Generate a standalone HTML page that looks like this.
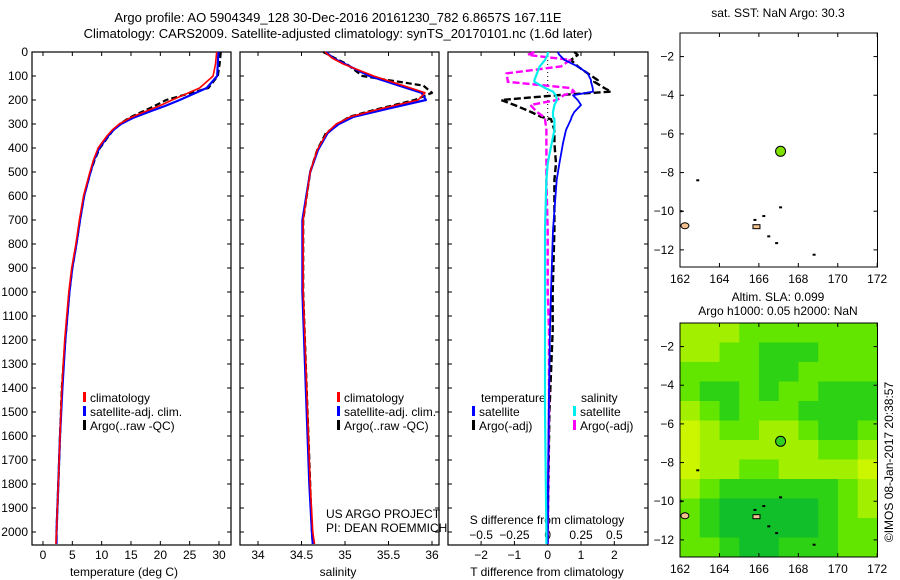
<!DOCTYPE html>
<html><head><meta charset="utf-8">
<style>
body{margin:0;background:#fff;}
svg{display:block;font-family:"Liberation Sans",sans-serif;font-size:12px;}
</style></head>
<body>
<svg id="c" width="900" height="580" viewBox="0 0 900 580" xmlns="http://www.w3.org/2000/svg">
<text x="338" y="22" text-anchor="middle" font-size="13">Argo profile: AO 5904349_128 30-Dec-2016 20161230_782 6.8657S 167.11E</text>
<text x="338" y="38" text-anchor="middle" font-size="13">Climatology: CARS2009. Satellite-adjusted climatology: synTS_20170101.nc (1.6d later)</text>
<text x="778" y="17" text-anchor="middle">sat. SST: NaN Argo: 30.3</text>
<text x="778" y="301" text-anchor="middle">Altim. SLA: 0.099</text>
<text x="778" y="315" text-anchor="middle">Argo h1000: 0.05 h2000: NaN</text>
<text transform="translate(893,462) rotate(-90)" text-anchor="middle">©IMOS 08-Jan-2017 20:38:57</text>
<g id="g"></g>
</svg>
<script>
// ---- profile data ----
const depthT = [0,50,100,150,200,225,250,275,300,325,350,400,450,500,600,700,800,900,1000,1200,1400,1600,1800,2000,2050];
const tempClim = [29.6,29.4,29.0,26.7,22.0,19.8,17.2,14.8,13.0,11.8,10.9,9.4,8.6,8.0,6.9,6.2,5.6,4.9,4.4,3.7,3.2,2.9,2.6,2.3,2.2];
const tempSat  = [29.9,29.8,29.7,27.9,23.3,20.8,18.0,15.3,13.3,12.0,11.1,9.6,8.7,8.1,7.0,6.3,5.7,5.0,4.5,3.8,3.3,2.9,2.6,2.3,2.3];
const tempArgo = [30.3,30.1,29.8,28.2,21.0,19.0,16.8,14.6,13.1,12.0,11.2,9.7,8.8,8.1,7.0,6.3,5.7,5.0,4.5,3.8,3.2,2.9,2.6,2.3,2.3];
const depthS = [0,25,50,100,140,170,200,240,270,300,320,338,408,500,700,1000,1400,1800,2000,2050];
const salClim = [34.77,34.85,34.98,35.33,35.67,35.92,35.84,35.37,35.06,34.9,34.84,34.79,34.68,34.6,34.52,34.52,34.56,34.6,34.63,34.65];
const salSat  = [34.78,34.86,35.0,35.28,35.62,35.88,35.93,35.45,35.1,34.93,34.86,34.8,34.69,34.6,34.51,34.51,34.55,34.59,34.62,34.63];
const salArgo = [34.75,34.88,35.02,35.2,35.9,36.0,35.8,35.35,35.05,34.92,34.85,34.78,34.68,34.6,34.52,34.52,34.56,34.6,34.62,34.63];
const depthD = [0,12,33,60,89,117,124,150,165,180,200,221,250,270,280,325,380,464,533,741,1000,1158,1500,2000,2050];
const dTsat  = [0.3,0.35,0.5,0.9,1.2,1.3,1.3,1.35,1.36,0.76,0.9,1.0,0.8,0.72,0.7,0.55,0.46,0.35,0.27,0.16,0.1,0.07,0.03,0.0,0.0];
const dTargo = [0.8,0.9,0.7,0.9,1.2,1.5,1.4,1.7,1.9,0.3,-1.4,-1.0,-0.5,-0.2,0.1,0.2,0.2,0.25,0.2,0.2,0.15,0.15,0.05,0.0,0.0];
const dSsat  = [0,0,-0.02,-0.06,-0.08,-0.1,-0.1,-0.02,0.04,0.06,0.07,0.05,0.04,0.04,0.05,0.05,0.03,0,-0.01,-0.02,-0.02,-0.02,-0.02,-0.01,-0.01];
const dSargo = [-0.1,-0.15,0.17,0.1,-0.31,-0.3,-0.3,0.17,0.2,0.12,0.07,-0.13,-0.08,-0.03,-0.02,-0.01,-0.01,-0.01,-0.01,0,0,0.01,0.01,0,0];
const depthTicks = [0,100,200,300,400,500,600,700,800,900,1000,1100,1200,1300,1400,1500,1600,1700,1800,1900,2000];
const tTicks = [0,5,10,15,20,25,30];
const sTicks = [34,34.5,35,35.5,36];
const dTTicks = [-2,-1,0,1,2];
const dSTickLabels = ["\u22120.5","\u22120.25","0","0.25","0.5"];
// ---- map data ----
const lonTicks = [162,164,166,168,170,172];
const latTicks = [-2,-4,-6,-8,-10,-12];
const argoLon = [167.1];
const argoLat = [-6.9];
const slaGrid = [
 [3,3,3,2,2,2,2,2,2,2],
 [3,3,2,2,1,1,1,2,2,2],
 [2,2,2,2,1,1,2,2,2,2],
 [2,1,1,2,1,2,2,1,1,1],
 [3,2,1,2,2,2,1,1,1,1],
 [4,3,2,2,3,3,2,1,1,2],
 [4,3,3,3,3,3,3,2,2,3],
 [4,3,3,2,2,3,3,3,3,4],
 [3,2,1,1,1,1,1,1,2,3],
 [2,1,0,0,0,0,0,1,2,3],
 [2,1,0,0,0,0,0,1,2,2],
 [2,2,1,0,0,1,1,1,2,2]
];
const slaColors = ['#10bf2a','#2ed214','#62e600','#a2f000','#ccf600'];
const islandLon = [162.9,165.8,166.25,167.1,166.5,166.9,168.8,162.05];
const islandLat = [-8.4,-10.45,-10.25,-9.8,-11.3,-11.65,-12.25,-10.0];

const NS='http://www.w3.org/2000/svg';
const G=document.getElementById('g');
function el(tag,attrs,parent){const e=document.createElementNS(NS,tag);for(const k in attrs)e.setAttribute(k,attrs[k]);(parent||G).appendChild(e);return e;}
function txt(x,y,s,anchor,parent){const t=el('text',{x:x,y:y,'text-anchor':anchor||'middle'},parent);t.textContent=s;return t;}

const TOP=52, BOT=545;
const yD=d=>TOP+d*0.24;
const xT=v=>43+v*(176/30);
const xS=v=>258+(v-34)*87;
const xDT=v=>547.7+v*33.3;
const xDS=v=>547.7+v*133.2;

function frame(x0,x1,name){
  const g=el('g',{});
  
  
  el('rect',{x:x0,y:TOP,width:x1-x0,height:BOT-TOP,fill:'none',stroke:'#000','stroke-width':1.2},g);
  depthTicks.forEach(d=>{el('line',{x1:x0,x2:x0+4,y1:yD(d),y2:yD(d),stroke:'#000'},g);el('line',{x1:x1,x2:x1-4,y1:yD(d),y2:yD(d),stroke:'#000'},g);});
  return g;
}
function line(xs,ds,xf,color,w,dash,name){
  const p=xs.map((v,i)=>xf(v).toFixed(1)+','+yD(ds[i]).toFixed(1)).join(' ');
  const l=el('polyline',{points:p,fill:'none',stroke:color,'stroke-width':w,'stroke-linejoin':'round'});
  if(dash)l.setAttribute('stroke-dasharray',dash);
  
  
  return l;
}
function legend(x,y,items,name){
  const g=el('g',{});
  
  
  items.forEach((it,i)=>{
    el('rect',{x:x,y:y+i*14-10,width:3,height:10,fill:it[1]},g);
    const t=txt(x+7,y+i*14,it[0],'start',g);
    
    
  });
}

const p1=frame(32,231,'temperature-panel');
depthTicks.forEach(d=>{const t=txt(28,yD(d)+4,String(d),'end',p1);});
tTicks.forEach(v=>{el('line',{x1:xT(v),x2:xT(v),y1:BOT,y2:BOT-4,stroke:'#000'},p1);el('line',{x1:xT(v),x2:xT(v),y1:TOP,y2:TOP+4,stroke:'#000'},p1);txt(xT(v),559,String(v),'middle',p1);});
txt(124,576,'temperature (deg C)','middle',p1);
line(tempArgo,depthT,xT,'#000',2.2,'6,3','temp-argo-line');
line(tempSat,depthT,xT,'#00f',2.2,null,'temp-satellite-line');
line(tempClim,depthT,xT,'#f00',1.6,null,'temp-climatology-line');
legend(83,402,[['climatology','#f00'],['satellite-adj. clim.','#00f'],['Argo(..raw -QC)','#000']],'temperature-legend');

const p2=frame(240,439,'salinity-panel');
sTicks.forEach(v=>{el('line',{x1:xS(v),x2:xS(v),y1:BOT,y2:BOT-4,stroke:'#000'},p2);el('line',{x1:xS(v),x2:xS(v),y1:TOP,y2:TOP+4,stroke:'#000'},p2);txt(xS(v),559,String(v),'middle',p2);});
txt(338,576,'salinity','middle',p2);
line(salArgo,depthS,xS,'#000',2.2,'6,3','sal-argo-line');
line(salSat,depthS,xS,'#00f',2.2,null,'sal-satellite-line');
line(salClim,depthS,xS,'#f00',1.6,null,'sal-climatology-line');
legend(337,402,[['climatology','#f00'],['satellite-adj. clim.','#00f'],['Argo(..raw -QC)','#000']],'salinity-legend');
txt(326,518,'US ARGO PROJECT','start',p2);
txt(326,532,'PI: DEAN ROEMMICH','start',p2);

const p3=frame(448,648,'difference-panel');
dTTicks.forEach((v,i)=>{el('line',{x1:xDT(v),x2:xDT(v),y1:BOT,y2:BOT-4,stroke:'#000'},p3);el('line',{x1:xDT(v),x2:xDT(v),y1:TOP,y2:TOP+4,stroke:'#000'},p3);txt(xDT(v),559,v<0?'\u2212'+(-v):String(v),'middle',p3);txt(xDT(v),539,dSTickLabels[i],'middle',p3);});
txt(547,524,'S difference from climatology','middle',p3);
txt(547,576,'T difference from climatology','middle',p3);
el('line',{x1:xDT(0),x2:xDT(0),y1:TOP,y2:yD(300),stroke:'#000','stroke-dasharray':'1,3'},p3);
line(dTargo,depthD,xDT,'#000',2.4,'7,3','dT-argo-line');
line(dSargo,depthD,xDS,'#f0f',2.4,'7,3','dS-argo-line');
line(dTsat,depthD,xDT,'#00f',1.8,null,'dT-satellite-line');
line(dSsat,depthD,xDS,'#0ee',2.2,null,'dS-satellite-line');
txt(481,402,'temperature','start',p3);
legend(472,416,[['satellite','#00f'],['Argo(-adj)','#000']],'temperature-diff-legend');
txt(581,402,'salinity','start',p3);
legend(573,416,[['satellite','#0ee'],['Argo(-adj)','#f0f']],'salinity-diff-legend');

const MX0=680, MX1=877.5;
const xL=lon=>MX0+(lon-162)*19.72;
function makeMap(top,name,withGrid){
  const bottom=top+234;
  const yL=lat=>top+(-0.78-lat)*19.33;
  const g=el('g',{});
  
  
  if(withGrid){
    const rows=slaGrid.length, cols=slaGrid[0].length;
    const cw=(MX1-MX0)/cols, ch=234/rows;
    slaGrid.forEach((row,r)=>row.forEach((v,c)=>{
      const cell=el('rect',{x:MX0+c*cw,y:top+r*ch,width:cw+0.5,height:ch+0.5,fill:slaColors[v]},g);
      
      
    }));
  }
  el('ellipse',{cx:xL(162.25),cy:yL(-10.75),rx:4,ry:3,fill:'#f4c090',stroke:'#000'},g);
  islandLon.forEach((lo,i)=>{const s=el('rect',{x:xL(lo)-1.5,y:yL(islandLat[i])-1,width:3,height:2,fill:'#000'},g);});
  el('rect',{x:xL(165.7),y:yL(-10.8)-2,width:7,height:4,fill:'#f4c090',stroke:'#000'},g);
  el('rect',{x:MX0,y:top,width:MX1-MX0,height:234,fill:'none',stroke:'#000'},g);
  lonTicks.forEach(v=>{el('line',{x1:xL(v),x2:xL(v),y1:top,y2:top+4,stroke:'#000'},g);el('line',{x1:xL(v),x2:xL(v),y1:bottom,y2:bottom-4,stroke:'#000'},g);txt(xL(v),bottom+16,String(v),'middle',g);});
  latTicks.forEach(v=>{el('line',{x1:MX0,x2:MX0+4,y1:yL(v),y2:yL(v),stroke:'#000'},g);el('line',{x1:MX1,x2:MX1-4,y1:yL(v),y2:yL(v),stroke:'#000'},g);txt(MX0-6,yL(v)+4,'\u2212'+(-v),'end',g);});
  argoLon.forEach((lo,i)=>{const d=el('circle',{cx:xL(lo),cy:yL(argoLat[i]),r:5,fill:withGrid?'#30d020':'#80e000',stroke:'#000'},g);});
}
makeMap(33,'sst-map',false);
makeMap(323,'sla-map',true);
</script>
</body></html>
